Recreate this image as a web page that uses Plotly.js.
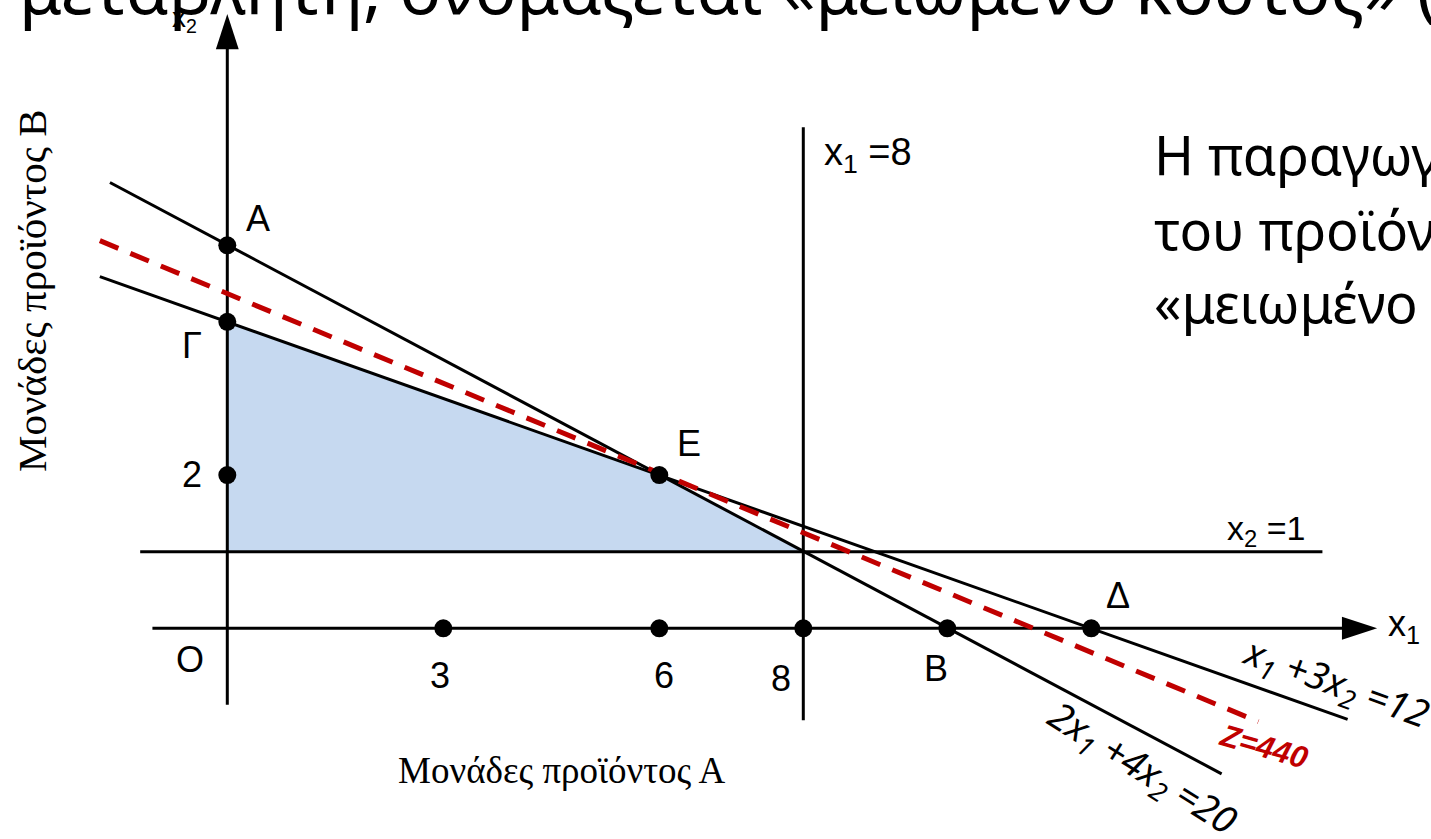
<!DOCTYPE html>
<html><head><meta charset="utf-8">
<script src="https://cdn.plot.ly/plotly-3.0.1.min.js"></script>
<style>html,body{margin:0;padding:0;background:#fff;overflow:hidden}#chart{width:1431px;height:839px}</style>
</head><body><div id="chart"></div>
<script>
// Constraint 2x1 + 4x2 = 20 (drawn segment)
const c1X1 = [-1.63, 13.81];
const c1X2 = [5.82, -1.90];
// Constraint x1 + 3x2 = 12
const c2X1 = [-1.77, 15.56];
const c2X2 = [4.59, -1.19];
// Constraint x1 = 8
const c3X1 = [8, 8];
const c3X2 = [6.54, -1.20];
// Constraint x2 = 1
const c4X1 = [-1.21, 15.21];
const c4X2 = [1, 1];
// Iso-cost line Z = 440
const zX1 = [-1.77, 14.32];
const zX2 = [5.06, -1.22];
// Feasible region vertices
const regionX1 = [0, 0, 6, 8, 0];
const regionX2 = [1, 4, 2, 1, 1];
// Coordinate axes
const axisHX1 = [-1.04, 15.7];
const axisHX2 = [0, 0];
const axisVX1 = [0, 0];
const axisVX2 = [-1.0, 7.7];
const arrowX1 = [15.97, 0];
const arrowX2 = [0, 8.02];
const arrowAngle = [90, 0];
// Marked points
const dotsX1 = [0, 0, 0, 6, 3, 6, 8, 10, 12];
const dotsX2 = [5, 4, 2, 2, 0, 0, 0, 0, 0];
// Text labels
const pointLabels = ['A', 'Γ', '2', 'E', 'O', '3', '6', '8', 'B', 'Δ'];
const lineLabels = ['x<sub>1</sub> =8', 'x<sub>2</sub> =1', 'x<sub>1</sub> +3x<sub>2</sub> =12', '2x<sub>1</sub> +4x<sub>2</sub> =20'];
const zLabel = 'Z=440';
const axisLabels = ['x<sub>1</sub>', 'x<sub>2</sub>'];
const xTitle = 'Μονάδες προϊόντος Α';
const yTitle = 'Μονάδες προϊόντος Β';
const topText = 'μεταβλητή, ονομάζεται «μειωμένο κόστος» (r';
const sideText = ['Η παραγωγή', 'του προϊόντος', '«μειωμένο'];

const W = 1431, H = 839;
const blk = '#000000';
const red = '#C00000';

function seg(x, y, extra) {
  return Object.assign({x: x, y: y, mode: 'lines', type: 'scatter', hoverinfo: 'skip',
    line: {color: blk, width: 3}}, extra || {});
}

const traces = [
  {x: regionX1, y: regionX2, mode: 'lines', fill: 'toself', fillcolor: '#C6D9F0',
   line: {width: 0, color: 'rgba(0,0,0,0)'}, type: 'scatter', hoverinfo: 'skip'},
  seg(axisHX1, axisHX2),
  seg(axisVX1, axisVX2),
  seg(c4X1, c4X2),
  seg(c3X1, c3X2),
  seg(c1X1, c1X2),
  seg(c2X1, c2X2),
  seg(zX1, zX2, {line: {color: red, width: 5, dash: '20px,13px'}}),
  {x: arrowX1, y: arrowX2, mode: 'markers', type: 'scatter', hoverinfo: 'skip',
   marker: {symbol: 'arrow', size: 37, angle: arrowAngle, color: blk, line: {width: 0}}},
  {x: dotsX1, y: dotsX2, mode: 'markers', type: 'scatter', hoverinfo: 'skip',
   marker: {symbol: 'circle', size: 18, color: blk, line: {width: 0}}}
];

function P(px, py) { return {x: px / W, y: 1 - py / H, xref: 'paper', yref: 'paper'}; }
function ann(px, py, text, opts) {
  return Object.assign(P(px, py), {text: text, showarrow: false, xanchor: 'center', yanchor: 'middle',
    font: {family: 'Liberation Sans, Arial, sans-serif', size: 36, color: blk}}, opts || {});
}
const sans = 'Liberation Sans, Arial, sans-serif';
const noto = 'Noto Sans, Open Sans, sans-serif';
const serif = 'Liberation Serif, Times New Roman, serif';

const labelPos = [[258,218],[192,345],[192,474],[689,443],[190,659],[440,675],[664,675],[781,678],[936,668],[1118,595]];
const annotations = [];
pointLabels.forEach((t, i) => annotations.push(ann(labelPos[i][0], labelPos[i][1], t)));

annotations.push(ann(822, 155, lineLabels[0], {xanchor: 'left', font: {family: sans, size: 38, color: blk}}));
annotations.push(ann(1225, 530, lineLabels[1], {xanchor: 'left', font: {family: sans, size: 34, color: blk}}));
annotations.push(ann(1336, 683, lineLabels[2], {textangle: 20, font: {family: noto, size: 38, color: blk, style: 'italic'}}));
annotations.push(ann(1142, 768, lineLabels[3], {textangle: 32, font: {family: noto, size: 38, color: blk, style: 'italic'}}));
annotations.push(ann(1264, 746, zLabel, {textangle: 16, font: {family: sans, size: 31, color: red, style: 'italic', weight: 'bold'}}));
annotations.push(ann(1386, 626, axisLabels[0], {xanchor: 'left', font: {family: sans, size: 36, color: blk}}));
annotations.push(ann(170, 20, axisLabels[1], {xanchor: 'left', font: {family: sans, size: 28, color: blk}}));

annotations.push(ann(561, 770, xTitle, {font: {family: serif, size: 37, color: blk}}));
annotations.push(ann(32, 291, yTitle, {textangle: -90, font: {family: serif, size: 41, color: blk}}));

annotations.push(ann(17, -13, topText, {xanchor: 'left', font: {family: noto, size: 69, color: blk}}));
const sideY = [154, 229, 302];
sideText.forEach((t, i) => annotations.push(ann(1152, sideY[i], t, {xanchor: 'left', font: {family: noto, size: 54, color: blk}})));

const layout = {
  width: W, height: H,
  margin: {l: 0, r: 0, t: 0, b: 0, pad: 0},
  paper_bgcolor: '#ffffff', plot_bgcolor: '#ffffff',
  showlegend: false,
  xaxis: {range: [-3.157, 16.718], visible: false, fixedrange: true},
  yaxis: {range: [-2.751, 8.202], visible: false, fixedrange: true},
  annotations: annotations
};
Plotly.newPlot('chart', traces, layout, {staticPlot: true, displayModeBar: false});
</script></body></html>
